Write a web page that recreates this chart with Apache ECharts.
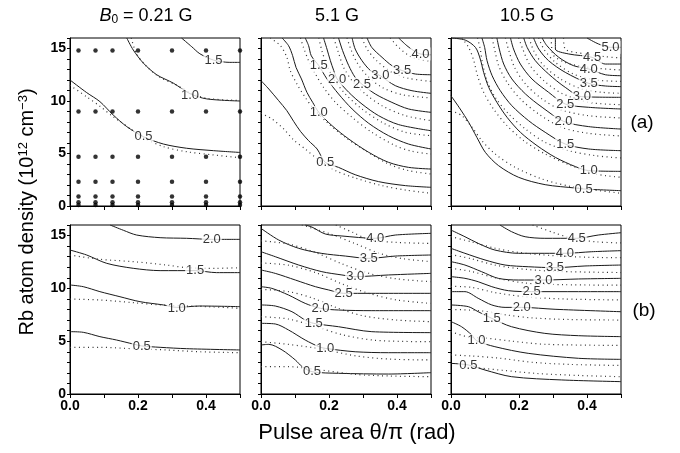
<!DOCTYPE html>
<html>
<head>
<meta charset="utf-8">
<script src="https://cdn.jsdelivr.net/npm/echarts@6/dist/echarts.min.js"></script>
<style>
  html, body { margin: 0; background: #fff; }
  #chart { width: 680px; height: 453px; }
</style>
</head>
<body>
<div id="chart"></div>
<script>
// contour lines: [level, [[theta/pi, density], ...]]
// (a) row: B0 = 0.21 G, 5.1 G, 10.5 G
const a1Solid = [
  [1.5, [[0.328,16],[0.358,15.17],[0.382,14.5],[0.422,13.9],[0.47,13.68],[0.5,13.68]]],
  [1.0, [[0.167,16],[0.186,14.86],[0.216,13.6],[0.255,12.5],[0.304,11.7],[0.353,10.7],[0.402,10.2],[0.5,10.0]]],
  [0.5, [[0,12.0],[0.049,10.8],[0.088,9.94],[0.127,8.67],[0.167,7.56],[0.216,6.6],[0.275,5.9],[0.343,5.5],[0.422,5.27],[0.5,5.1]]]
]
const a1Dotted = [
  [1.0, [[0.18,16],[0.196,14.5],[0.225,13.3],[0.265,12.25],[0.314,11.5],[0.353,10.8],[0.402,10.25],[0.5,10.05]]],
  [0.5, [[0,11.5],[0.049,10.4],[0.088,9.5],[0.127,8.5],[0.176,7.4],[0.216,6.5],[0.275,5.65],[0.343,5.17],[0.422,4.86],[0.5,4.6]]]
]
const a1Labels = [[1.5,0.422,13.9],[1.0,0.353,10.57],[0.5,0.216,6.6]]

// measurement points in the first panel
const dotX = [0.025, 0.075, 0.125, 0.2, 0.3, 0.4, 0.5]
const dotY = [14.8, 9.0, 4.7, 2.3, 0.9, 0.35, 0.1]

const a2Solid = [
  [0.5, [[0,11.94],[0.023,11.14],[0.052,10.03],[0.076,9.08],[0.096,8.06],[0.116,7.11],[0.14,6.22],[0.165,5.43],[0.189,4.16],[0.228,3.68],[0.277,2.98],[0.346,2.32],[0.425,1.94],[0.5,1.78]]],
  [1.0, [[0.062,16],[0.081,15.27],[0.093,14.32],[0.103,13.2],[0.119,12.1],[0.135,10.83],[0.152,9.87],[0.17,8.92],[0.209,7.65],[0.258,6.38],[0.317,5.11],[0.375,4.16],[0.434,3.68],[0.5,3.52]]],
  [1.5, [[0.13,16],[0.14,15.27],[0.148,14.3],[0.17,13.37],[0.194,12.1],[0.228,10.67],[0.268,9.24],[0.317,7.87],[0.375,6.7],[0.434,5.9],[0.5,5.43]]],
  [2.0, [[0.184,16],[0.194,14.95],[0.204,13.84],[0.214,12.9],[0.224,12.1],[0.258,10.83],[0.297,9.71],[0.346,8.6],[0.405,7.75],[0.5,7.17]]],
  [2.5, [[0.228,16],[0.24,14.8],[0.258,13.37],[0.277,12.25],[0.297,11.6],[0.336,10.67],[0.385,9.87],[0.434,9.24],[0.5,8.92]]],
  [3.0, [[0.268,16],[0.277,14.95],[0.297,13.84],[0.322,12.9],[0.351,12.4],[0.395,11.46],[0.444,10.98],[0.5,10.73]]],
  [3.5, [[0.312,16],[0.326,15.1],[0.356,14.16],[0.385,13.37],[0.415,12.9],[0.454,12.57],[0.5,12.5]]],
  [4.0, [[0.405,16],[0.429,15.27],[0.449,14.8],[0.469,14.48],[0.5,14.4]]]
]
const a2Dotted = [
  [0.5, [[0,8.83],[0.032,8.29],[0.067,7.33],[0.096,6.29],[0.13,5.43],[0.16,4.63],[0.189,4.0],[0.219,3.37],[0.277,2.67],[0.356,1.94],[0.425,1.52],[0.5,1.21]]],
  [1.0, [[0.027,16],[0.057,15.27],[0.076,14.16],[0.086,12.9],[0.106,11.6],[0.13,10.35],[0.155,9.24],[0.194,7.97],[0.248,6.54],[0.307,5.27],[0.375,4.0],[0.434,3.37],[0.5,3.05]]],
  [1.5, [[0.116,16],[0.125,15.1],[0.14,13.84],[0.16,12.57],[0.184,11.3],[0.219,9.87],[0.268,8.44],[0.326,7.02],[0.395,5.75],[0.444,5.21],[0.5,4.95]]],
  [2.0, [[0.17,16],[0.179,14.8],[0.194,13.37],[0.214,12.1],[0.248,10.67],[0.297,9.24],[0.356,7.97],[0.425,7.02],[0.5,6.7]]],
  [2.5, [[0.214,16],[0.226,14.8],[0.243,13.2],[0.268,11.94],[0.307,10.67],[0.356,9.55],[0.425,8.6],[0.5,8.13]]],
  [3.0, [[0.253,16],[0.264,14.95],[0.282,13.68],[0.312,12.41],[0.356,11.3],[0.415,10.6],[0.5,10.29]]],
  [3.5, [[0.297,16],[0.312,14.95],[0.34,13.84],[0.385,12.73],[0.434,12.16],[0.5,11.87]]],
  [4.0, [[0.38,16],[0.405,15.1],[0.444,14.16],[0.5,13.78]]]
]
const a2Labels = [[0.5,0.189,4.16],[1.0,0.17,8.92],[1.5,0.17,13.37],[2.0,0.224,12.1],[2.5,0.297,11.62],[3.0,0.351,12.41],[3.5,0.415,12.89],[4.0,0.469,14.48]]

const a3Solid = [
  [0.5, [[0,10.5],[0.027,9.24],[0.052,7.97],[0.076,6.54],[0.101,5.11],[0.14,3.84],[0.199,2.73],[0.277,2.03],[0.366,1.71],[0.39,1.62],[0.5,1.46]]],
  [1.0, [[0,16],[0.042,15.8],[0.072,15.1],[0.086,14.0],[0.096,12.73],[0.111,11.3],[0.135,9.87],[0.165,8.44],[0.204,7.02],[0.253,5.75],[0.307,4.63],[0.366,3.75],[0.405,3.37],[0.5,3.3]]],
  [1.5, [[0.091,16],[0.099,15.1],[0.106,13.84],[0.121,12.41],[0.145,10.98],[0.179,9.55],[0.228,8.13],[0.277,7.02],[0.336,5.9],[0.405,5.43],[0.5,5.27]]],
  [2.0, [[0.135,16],[0.142,14.95],[0.155,13.52],[0.179,12.1],[0.219,10.67],[0.268,9.4],[0.331,8.06],[0.405,7.56],[0.5,7.33]]],
  [2.5, [[0.175,16],[0.184,14.95],[0.204,13.52],[0.238,12.1],[0.287,10.83],[0.336,9.71],[0.405,9.4],[0.5,9.24]]],
  [3.0, [[0.214,16],[0.224,15.1],[0.248,13.84],[0.287,12.57],[0.336,11.3],[0.385,10.41],[0.5,10.35]]],
  [3.5, [[0.243,16],[0.258,14.95],[0.287,13.84],[0.336,12.73],[0.405,11.68],[0.454,11.43],[0.5,11.37]]],
  [4.0, [[0.268,16],[0.282,15.27],[0.317,14.16],[0.36,13.37],[0.405,13.05],[0.454,12.5],[0.5,12.41]]],
  [4.5, [[0.307,16],[0.307,14.95],[0.346,14.48],[0.415,14.16],[0.454,13.52],[0.5,13.52]]],
  [5.0, [[0.4,16],[0.434,15.43],[0.469,15.11],[0.5,15.11]]]
]
const a3Dotted = [
  [0.5, [[0,9.08],[0.032,8.6],[0.062,7.49],[0.091,6.22],[0.13,4.95],[0.189,3.68],[0.268,2.57],[0.356,1.84],[0.5,1.21]]],
  [1.0, [[0.032,16],[0.052,15.1],[0.067,13.84],[0.078,12.41],[0.096,10.83],[0.125,9.24],[0.165,7.65],[0.214,6.22],[0.277,4.95],[0.346,3.94],[0.425,3.05],[0.5,2.73]]],
  [1.5, [[0.078,16],[0.086,14.95],[0.093,13.52],[0.106,11.94],[0.13,10.35],[0.17,8.76],[0.219,7.33],[0.277,6.06],[0.346,5.27],[0.425,4.79],[0.5,4.57]]],
  [2.0, [[0.121,16],[0.129,14.8],[0.14,13.37],[0.165,11.78],[0.204,10.19],[0.258,8.76],[0.326,7.49],[0.405,6.92],[0.5,6.67]]],
  [2.5, [[0.16,16],[0.17,14.8],[0.187,13.2],[0.219,11.62],[0.268,10.19],[0.326,9.14],[0.405,8.6],[0.5,8.38]]],
  [3.0, [[0.199,16],[0.211,14.95],[0.233,13.37],[0.273,11.94],[0.326,10.73],[0.405,9.87],[0.5,9.65]]],
  [3.5, [[0.23,16],[0.243,14.8],[0.273,13.37],[0.322,12.1],[0.385,11.14],[0.444,10.83],[0.5,10.73]]],
  [4.0, [[0.258,16],[0.273,14.95],[0.307,13.68],[0.36,12.57],[0.425,12.0],[0.5,11.87]]],
  [4.5, [[0.295,16],[0.299,14.48],[0.336,13.68],[0.405,13.2],[0.5,12.95]]],
  [5.0, [[0.331,16],[0.336,14.95],[0.395,14.48],[0.454,14.22],[0.5,14.1]]]
]
const a3Labels = [[5.0,0.469,15.11],[4.5,0.415,14.16],[4.0,0.405,13.05],[3.5,0.405,11.68],[3.0,0.385,10.41],[2.5,0.336,9.71],[2.0,0.331,8.06],[1.5,0.336,5.9],[1.0,0.405,3.37],[0.5,0.39,1.62]]

// (b) row
const b1Solid = [
  [2.0, [[0.118,16],[0.157,15.5],[0.196,15.05],[0.265,14.8],[0.343,14.74],[0.417,14.64],[0.5,14.64]]],
  [1.5, [[0,13.63],[0.049,13.16],[0.108,12.37],[0.186,11.9],[0.265,11.68],[0.368,11.68],[0.431,11.49],[0.5,11.49]]],
  [1.0, [[0,10.32],[0.039,10.16],[0.088,9.69],[0.147,9.21],[0.206,8.74],[0.275,8.43],[0.314,8.2],[0.382,8.33],[0.5,8.27]]],
  [0.5, [[0,5.9],[0.039,5.84],[0.088,5.43],[0.137,5.11],[0.186,4.73],[0.211,4.55],[0.265,4.42],[0.343,4.29],[0.5,4.17]]]
]
const b1Dotted = [
  [1.5, [[0,13.16],[0.088,12.75],[0.186,12.53],[0.284,12.21],[0.343,11.96],[0.431,11.9],[0.5,11.96]]],
  [1.0, [[0,8.99],[0.088,8.9],[0.186,8.65],[0.265,8.43],[0.402,8.27],[0.5,8.11]]],
  [0.5, [[0,4.42],[0.088,4.42],[0.186,4.29],[0.284,4.17],[0.382,4.0],[0.5,3.91]]]
]
const b1Labels = [[2.0,0.417,14.64],[1.5,0.368,11.68],[1.0,0.314,8.11],[0.5,0.211,4.48]]

const b2Solid = [
  [4.0, [[0.13,16],[0.15,15.8],[0.189,15.15],[0.238,14.96],[0.336,14.74],[0.395,15.05],[0.5,15.21]]],
  [3.5, [[0,15.68],[0.052,14.58],[0.111,13.79],[0.179,13.31],[0.248,13.06],[0.317,12.84],[0.395,13.06],[0.5,13.16]]],
  [3.0, [[0,13.47],[0.042,13.0],[0.111,12.21],[0.179,11.58],[0.238,11.27],[0.277,11.11],[0.375,11.27],[0.5,11.42]]],
  [2.5, [[0,11.74],[0.042,11.42],[0.101,10.79],[0.16,10.16],[0.199,9.85],[0.243,9.53],[0.326,9.53],[0.5,9.53]]],
  [2.0, [[0,10.16],[0.032,10.0],[0.081,9.37],[0.13,8.58],[0.175,8.11],[0.228,7.95],[0.326,7.89],[0.5,7.89]]],
  [1.5, [[0,8.43],[0.042,8.33],[0.091,7.79],[0.13,7.0],[0.155,6.69],[0.228,6.37],[0.326,5.9],[0.5,5.81]]],
  [1.0, [[0,6.69],[0.042,6.63],[0.081,6.06],[0.13,5.11],[0.17,4.48],[0.189,4.32],[0.277,4.0],[0.375,3.91],[0.5,3.91]]],
  [0.5, [[0,4.64],[0.023,4.7],[0.062,4.17],[0.101,3.22],[0.121,2.59],[0.15,2.11],[0.228,1.96],[0.375,1.89],[0.5,2.02]]]
]
const b2Dotted = [
  [4.0, [[0.22,16],[0.27,15.3],[0.32,14.6],[0.4,14.35],[0.5,14.26]]],
  [3.5, [[0.12,16],[0.2,15.2],[0.28,14.2],[0.35,13.3],[0.42,12.8],[0.5,12.53]]],
  [3.0, [[0,14.5],[0.08,14.2],[0.16,13.4],[0.24,12.3],[0.32,11.4],[0.4,10.9],[0.5,10.63]]],
  [2.5, [[0,12.4],[0.08,12.2],[0.16,11.5],[0.24,10.4],[0.32,9.5],[0.4,8.9],[0.5,8.58]]],
  [2.0, [[0,9.9],[0.08,9.7],[0.15,9.1],[0.22,8.2],[0.3,7.4],[0.4,7.0],[0.5,6.85]]],
  [1.5, [[0,7.32],[0.08,7.1],[0.16,6.4],[0.24,5.6],[0.33,5.1],[0.42,4.98],[0.5,4.95]]],
  [1.0, [[0,4.95],[0.08,4.7],[0.18,4.25],[0.28,3.6],[0.38,3.3],[0.5,3.22]]],
  [0.5, [[0,2.59],[0.08,2.59],[0.18,2.25],[0.28,1.85],[0.38,1.7],[0.5,1.64]]]
]
const b2Labels = [[4.0,0.336,14.74],[3.5,0.317,12.84],[3.0,0.277,11.11],[2.5,0.243,9.53],[2.0,0.175,8.11],[1.5,0.155,6.69],[1.0,0.189,4.32],[0.5,0.15,2.11]]

const b3Solid = [
  [4.5, [[0.144,16],[0.178,15.37],[0.218,14.89],[0.276,14.74],[0.37,14.74],[0.433,15.05],[0.5,15.27]]],
  [4.0, [[0,15.52],[0.041,14.89],[0.08,14.26],[0.129,13.63],[0.198,13.32],[0.276,13.32],[0.335,13.32],[0.414,13.47],[0.5,13.57]]],
  [3.5, [[0,13.79],[0.041,13.32],[0.1,12.69],[0.159,12.21],[0.227,12.05],[0.306,11.96],[0.394,12.12],[0.5,12.21]]],
  [3.0, [[0,12.53],[0.041,12.21],[0.09,11.58],[0.139,10.95],[0.198,10.79],[0.272,10.79],[0.375,10.89],[0.5,10.95]]],
  [2.5, [[0,11.11],[0.041,10.95],[0.08,10.63],[0.12,10.16],[0.169,9.78],[0.237,9.69],[0.375,9.69],[0.5,9.69]]],
  [2.0, [[0,9.69],[0.041,9.69],[0.08,9.06],[0.12,8.43],[0.159,8.2],[0.208,8.2],[0.306,8.02],[0.5,7.79]]],
  [1.5, [[0,8.43],[0.051,8.27],[0.08,7.79],[0.12,7.16],[0.178,6.37],[0.276,5.74],[0.375,5.52],[0.5,5.43]]],
  [1.0, [[0,6.85],[0.031,6.37],[0.061,5.59],[0.075,5.05],[0.129,4.48],[0.227,3.85],[0.375,3.38],[0.5,3.28]]],
  [0.5, [[0,2.9],[0.051,2.75],[0.1,2.27],[0.178,1.64],[0.325,1.33],[0.5,1.17]]]
]
const b3Dotted = [
  [4.5, [[0.24,16],[0.3,15.3],[0.36,14.7],[0.43,14.4],[0.5,14.3]]],
  [4.0, [[0,14.9],[0.06,14.4],[0.13,13.8],[0.2,13.4],[0.3,13.1],[0.4,12.95],[0.5,12.9]]],
  [3.5, [[0,13.2],[0.06,12.8],[0.13,12.2],[0.22,11.8],[0.32,11.6],[0.5,11.5]]],
  [3.0, [[0,11.9],[0.06,11.6],[0.13,11.0],[0.22,10.5],[0.33,10.35],[0.5,10.3]]],
  [2.5, [[0,10.2],[0.06,10.1],[0.13,9.6],[0.22,9.2],[0.33,9.0],[0.5,8.9]]],
  [2.0, [[0,8.0],[0.08,7.9],[0.16,7.5],[0.24,7.2],[0.35,7.05],[0.5,7.0]]],
  [1.5, [[0,5.9],[0.05,5.4],[0.1,5.3],[0.18,5.0],[0.28,4.7],[0.5,4.6]]],
  [1.0, [[0,3.7],[0.06,3.6],[0.14,3.4],[0.24,3.0],[0.35,2.8],[0.5,2.7]]],
  [0.5, [[0.07,2.5],[0.15,2.25],[0.25,1.95],[0.38,1.75],[0.5,1.64]]]
]
const b3Labels = [[4.5,0.37,14.74],[4.0,0.335,13.32],[3.5,0.306,11.96],[3.0,0.272,10.79],[2.5,0.237,9.69],[2.0,0.208,8.2],[1.5,0.12,7.16],[1.0,0.075,5.05],[0.5,0.051,2.75]]

const panels = [
  { solid: a1Solid, dotted: a1Dotted, labels: a1Labels },
  { solid: a2Solid, dotted: a2Dotted, labels: a2Labels },
  { solid: a3Solid, dotted: a3Dotted, labels: a3Labels },
  { solid: b1Solid, dotted: b1Dotted, labels: b1Labels },
  { solid: b2Solid, dotted: b2Dotted, labels: b2Labels },
  { solid: b3Solid, dotted: b3Dotted, labels: b3Labels }
]

const FONT = '"Liberation Sans", Arial, Helvetica, sans-serif'
const colLeft = [70, 261, 451]
const rowTop = [38, 225]
const rowHeight = [168, 169]

const grids = [], xAxes = [], yAxes = [], series = []

panels.forEach((p, i) => {
  const row = Math.floor(i / 3), col = i % 3
  grids.push({
    left: colLeft[col], top: rowTop[row], width: 170, height: rowHeight[row],
    show: true, borderColor: '#000', borderWidth: 1, backgroundColor: 'transparent'
  })
  xAxes.push({
    gridIndex: i, type: 'value', min: 0, max: 0.5, interval: 0.1,
    axisLine: { lineStyle: { color: '#000', width: 1 } },
    axisTick: { length: 4, lineStyle: { color: '#000' } },
    splitLine: { show: false },
    axisLabel: {
      show: row === 1, color: '#000', fontSize: 14, fontWeight: 'bold', fontFamily: FONT, margin: 5,
      formatter: v => {
        const k = Math.round(v * 10)
        return (k % 2 === 0 && k < 5) ? (k / 10).toFixed(1) : ''
      }
    }
  })
  yAxes.push({
    gridIndex: i, type: 'value', min: 0, max: 16, interval: 1,
    axisLine: { lineStyle: { color: '#000', width: 1 } },
    axisTick: { length: 3, lineStyle: { color: '#000' } },
    splitLine: { show: false },
    axisLabel: {
      show: col === 0, color: '#000', fontSize: 14, fontWeight: 'bold', fontFamily: FONT, margin: 4,
      formatter: v => (v % 5 === 0 && v < 16) ? String(v) : ''
    }
  })

  p.solid.forEach(([lv, pts]) => series.push({
    type: 'line', name: 'exp ' + lv, xAxisIndex: i, yAxisIndex: i, data: pts,
    showSymbol: false, smooth: 0.3, silent: true,
    lineStyle: { color: '#1a1a1a', width: 1 }
  }))
  p.dotted.forEach(([lv, pts]) => series.push({
    type: 'line', name: 'calc ' + lv, xAxisIndex: i, yAxisIndex: i, data: pts,
    showSymbol: false, smooth: 0.3, silent: true,
    lineStyle: { color: '#333', width: 1.2, type: [1, 3.5] }
  }))
  series.push({
    type: 'scatter', xAxisIndex: i, yAxisIndex: i, z: 5, silent: true,
    symbolSize: 0,
    data: p.labels.map(([lv, x, y]) => [x, y, lv]),
    label: {
      show: true, position: 'inside', color: '#000', fontSize: 13, fontFamily: FONT,
      backgroundColor: '#fff', padding: [0, 1],
      formatter: d => d.value[2].toFixed(1)
    }
  })
})

// measurement grid of the 0.21 G panel
const dots = []
dotX.forEach(x => dotY.forEach(y => dots.push([x, y])))
series.push({
  type: 'scatter', xAxisIndex: 0, yAxisIndex: 0, data: dots, symbolSize: 4.5, clip: false,
  itemStyle: { color: '#000' }, silent: true, z: 6
})

function txt(x, y, text, size, extra) {
  return Object.assign({ type: 'text', x: x, y: y, style: {
    text: text, align: 'center', verticalAlign: 'middle',
    fontSize: size, fontFamily: FONT, fill: '#000'
  } }, extra || {})
}

const chart = echarts.init(document.getElementById('chart'))
chart.setOption({
  animation: false,
  backgroundColor: '#fff',
  grid: grids,
  xAxis: xAxes,
  yAxis: yAxes,
  series: series,
  graphic: [
    { type: 'text', x: 146, y: 16, style: {
      text: '{i|B}{s|0}{n| = 0.21 G}', align: 'center', verticalAlign: 'middle',
      fontSize: 18, fontFamily: FONT, fill: '#000',
      rich: {
        i: { fontSize: 18, fontStyle: 'italic', fontFamily: FONT, fill: '#000' },
        s: { fontSize: 12, fontFamily: FONT, verticalAlign: 'bottom', fill: '#000', padding: [7, 0, 0, 0] },
        n: { fontSize: 18, fontFamily: FONT, fill: '#000' }
      } } },
    txt(337, 16, '5.1 G', 18),
    txt(527, 16, '10.5 G', 18),
    txt(642, 123, '(a)', 19),
    txt(644, 311, '(b)', 19),
    txt(357, 433, 'Pulse area \u03b8/\u03c0 (rad)', 22),
    { type: 'text', x: 27, y: 212, rotation: Math.PI / 2, style: {
      text: '{a|Rb atom density (10}{b|12}{a| cm}{b|\u22123}{a|)}', align: 'center', verticalAlign: 'middle',
      fontSize: 20, fontFamily: FONT, fill: '#000',
      rich: {
        a: { fontSize: 20, fontFamily: FONT, fill: '#000' },
        b: { fontSize: 13, fontFamily: FONT, fill: '#000', verticalAlign: 'top' }
      } } }
  ]
})
</script>
</body>
</html>
